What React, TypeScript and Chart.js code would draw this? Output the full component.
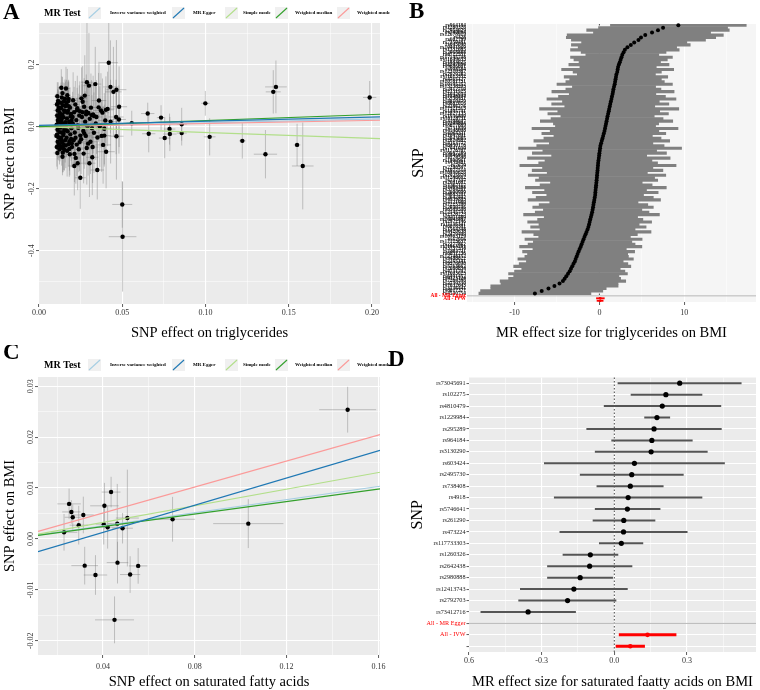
import React, { useEffect, useRef } from 'react';
import { Chart, registerables } from 'chart.js';

Chart.register(...registerables);

const SERIF = '"Liberation Serif", "Times New Roman", Times, serif';

/* ---------------- shared MR method styling ---------------- */
const methodNames = ['Inverse variance weighted', 'MR Egger', 'Simple mode', 'Weighted median', 'Weighted mode'];
const methodColors = ['#a6cee3', '#1f78b4', '#b2df8a', '#33a02c', '#fb9a99'];
const methodOrder = [4, 0, 3, 1, 2];

/* ---------------- panel A: triglycerides -> BMI (SNP scatter) ---------------- */
const tgMethodIntercepts = [0, 0.0042, 0, 0, 0];
const tgMethodSlopes = [0.12, 0.133, -0.189, 0.194, 0.0995];

const tgSnpX = [
  0.0110, 0.0115, 0.0108, 0.0120, 0.0112, 0.0125, 0.0109, 0.0118, 0.0113, 0.0127, 0.0106, 0.0121, 0.0111, 0.0124,
  0.0108, 0.0117, 0.0129, 0.0112, 0.0120, 0.0107, 0.0123, 0.0110, 0.0116, 0.0128, 0.0105, 0.0119, 0.0126, 0.0114,
  0.0134, 0.0141, 0.0137, 0.0150, 0.0144, 0.0132, 0.0155, 0.0139, 0.0147, 0.0135, 0.0158, 0.0142, 0.0131, 0.0152,
  0.0138, 0.0146, 0.0133, 0.0157, 0.0140, 0.0149, 0.0136, 0.0153, 0.0143, 0.0148, 0.0139, 0.0151, 0.0134, 0.0156,
  0.0145, 0.0137, 0.0154, 0.0141, 0.0159, 0.0132,
  0.0162, 0.0170, 0.0178, 0.0165, 0.0186, 0.0174, 0.0192, 0.0168, 0.0181, 0.0163, 0.0195, 0.0172, 0.0188, 0.0166,
  0.0183, 0.0176, 0.0198, 0.0169, 0.0185, 0.0179, 0.0190, 0.0164, 0.0193, 0.0175, 0.0197, 0.0171, 0.0187, 0.0161,
  0.0182, 0.0196,
  0.0205, 0.0218, 0.0230, 0.0211, 0.0242, 0.0224, 0.0203, 0.0236, 0.0215, 0.0248, 0.0208, 0.0227, 0.0239, 0.0213,
  0.0221, 0.0212, 0.0232, 0.0248, 0.0229, 0.0245, 0.0202, 0.0233, 0.0219, 0.0244,
  0.0255, 0.0262, 0.0271, 0.0284, 0.0258, 0.0277, 0.0291, 0.0266, 0.0281, 0.0253, 0.0295, 0.0268, 0.0287, 0.0288,
  0.0300, 0.0275, 0.0261, 0.0283, 0.0296, 0.0272,
  0.0338, 0.0312, 0.0325, 0.0305, 0.0341, 0.0318, 0.0330, 0.0351, 0.0309, 0.0322, 0.0320, 0.0303, 0.0350, 0.0315,
  0.0330, 0.0345, 0.0358,
  0.0381, 0.0372, 0.0398, 0.0365, 0.0392, 0.0392, 0.0385, 0.0403, 0.0465, 0.0481, 0.0463, 0.0480, 0.0430, 0.0419,
  0.0429, 0.0447, 0.0465, 0.0412, 0.0402, 0.0376, 0.0360,
  0.0500, 0.0502, 0.0557, 0.0653, 0.0733, 0.0857, 0.0999, 0.0659, 0.0784, 0.0786, 0.0755, 0.0857, 0.1025, 0.1221,
  0.1360, 0.1407, 0.1423, 0.1550, 0.1584, 0.1986,
];
const tgSnpY = [
  0.098, 0.083, 0.071, 0.062, 0.052, 0.044, 0.036, 0.029, 0.021, 0.013, 0.006, -0.002, -0.010, -0.018,
  -0.026, -0.034, -0.041, -0.049, -0.057, -0.066, -0.074, -0.085, 0.016, 0.032, -0.030, 0.056, -0.062, 0.076,
  0.125, 0.108, 0.094, 0.082, 0.069, 0.059, 0.048, 0.039, 0.030, 0.022, 0.014, 0.007, -0.003, -0.011,
  -0.019, -0.027, -0.036, -0.044, -0.051, -0.059, -0.067, -0.075, -0.084, -0.021, 0.011, 0.052, -0.046, 0.090,
  -0.071, 0.035, 0.001, -0.097, 0.066, 0.077,
  0.123, 0.101, 0.089, 0.073, 0.061, 0.051, 0.041, 0.026, 0.016, 0.005, -0.005, -0.015, -0.025, -0.036,
  -0.047, -0.057, -0.066, -0.078, -0.089, 0.066, 0.033, -0.012, -0.040, 0.082, -0.054, 0.045, 0.009, -0.061,
  -0.072, 0.021,
  0.085, 0.071, 0.059, 0.046, 0.036, 0.021, 0.010, -0.004, -0.019, -0.029, -0.044, -0.058, -0.073, -0.088,
  -0.101, -0.127, -0.118, -0.165, 0.053, 0.050, 0.031, 0.004, -0.036, -0.050,
  0.091, 0.080, 0.064, 0.048, 0.031, 0.016, 0.001, -0.014, -0.030, -0.041, -0.055, -0.087, -0.069, 0.143,
  0.132, 0.100, 0.046, 0.040, 0.044, -0.022,
  0.137, 0.061, 0.039, 0.025, 0.010, -0.005, -0.020, -0.035, -0.049, -0.066, -0.099, -0.118, -0.140, 0.037,
  0.034, 0.031, 0.062,
  0.045, 0.052, 0.020, 0.000, -0.007, -0.029, -0.059, -0.081, -0.031, 0.064, 0.031, 0.023, 0.016, 0.206,
  0.128, 0.112, 0.119, 0.057, 0.054, -0.030, 0.084,
  -0.251, -0.355, 0.011, 0.042, 0.029, 0.0075, 0.075, -0.023, -0.008, -0.024, -0.037, -0.021, -0.033, -0.046,
  -0.089, 0.112, 0.128, -0.059, -0.127, 0.094,
];
const tgSnpSeX = [
  0.002, 0.0018, 0.0022, 0.0016, 0.0025, 0.002, 0.0017, 0.0023, 0.0019, 0.0021, 0.0015, 0.0024, 0.002, 0.0018,
  0.0022, 0.0016, 0.0021, 0.0019, 0.0023, 0.0017, 0.002, 0.0022, 0.0018, 0.0021, 0.0016, 0.0024, 0.0019, 0.002,
  0.0022, 0.002, 0.0025, 0.0018, 0.0021, 0.0024, 0.0017, 0.002, 0.0023, 0.0019, 0.0022, 0.0026, 0.0018, 0.0021,
  0.002, 0.0024, 0.0017, 0.0022, 0.0019, 0.0023, 0.0021, 0.0018, 0.0025, 0.002, 0.0022, 0.0019, 0.0024, 0.0021,
  0.0018, 0.0023, 0.002, 0.0022, 0.0019, 0.0021,
  0.0025, 0.0022, 0.0028, 0.002, 0.0024, 0.0027, 0.0021, 0.0026, 0.0023, 0.0025, 0.002, 0.0024, 0.0028, 0.0022,
  0.0026, 0.0021, 0.0025, 0.0023, 0.0027, 0.0022, 0.0024, 0.002, 0.0026, 0.0023, 0.0025, 0.0021, 0.0027, 0.0024,
  0.0022, 0.0026,
  0.003, 0.0026, 0.0033, 0.0028, 0.0031, 0.0025, 0.0029, 0.0034, 0.0027, 0.003, 0.0032, 0.0026, 0.0029, 0.0031,
  0.0028, 0.0035, 0.003, 0.0033, 0.0027, 0.0029, 0.0031, 0.0026, 0.003, 0.0028,
  0.0034, 0.003, 0.0037, 0.0032, 0.0035, 0.0029, 0.0036, 0.0031, 0.0038, 0.0033, 0.003, 0.0035, 0.0032, 0.0036,
  0.0034, 0.0031, 0.0033, 0.0037, 0.003, 0.0034,
  0.0036, 0.004, 0.0034, 0.0038, 0.0035, 0.0039, 0.0033, 0.0037, 0.004, 0.0035, 0.0038, 0.0036, 0.0041, 0.0034,
  0.0037, 0.0035, 0.0039,
  0.004, 0.0045, 0.0042, 0.0038, 0.0044, 0.0041, 0.0046, 0.0052, 0.0043, 0.0048, 0.0045, 0.0042, 0.0047, 0.0055,
  0.0044, 0.0049, 0.006, 0.0043, 0.0046, 0.0041, 0.0044,
  0.006, 0.0083, 0.003, 0.004, 0.0025, 0.003, 0.0025, 0.004, 0.0035, 0.004, 0.0035, 0.003, 0.0035, 0.002,
  0.007, 0.0045, 0.0065, 0.002, 0.0065, 0.004,
];
const tgSnpSeY = [
  0.045, 0.06, 0.038, 0.052, 0.07, 0.041, 0.055, 0.033, 0.062, 0.047, 0.058, 0.036, 0.066, 0.043,
  0.051, 0.075, 0.039, 0.057, 0.044, 0.063, 0.048, 0.053, 0.035, 0.06, 0.046, 0.071, 0.05, 0.042,
  0.06, 0.052, 0.068, 0.045, 0.074, 0.056, 0.049, 0.083, 0.061, 0.047, 0.07, 0.054, 0.066, 0.058,
  0.077, 0.05, 0.063, 0.072, 0.055, 0.081, 0.059, 0.067, 0.064, 0.053, 0.069, 0.088, 0.057, 0.062,
  0.075, 0.048, 0.071, 0.06, 0.079, 0.065,
  0.07, 0.085, 0.062, 0.078, 0.066, 0.092, 0.058, 0.074, 0.081, 0.063, 0.087, 0.069, 0.076, 0.061,
  0.095, 0.072, 0.064, 0.083, 0.068, 0.079, 0.06, 0.088, 0.071, 0.066, 0.077, 0.084, 0.059, 0.073,
  0.09, 0.065,
  0.09, 0.076, 0.105, 0.082, 0.097, 0.071, 0.088, 0.11, 0.079, 0.094, 0.085, 0.102, 0.074, 0.091,
  0.083, 0.095, 0.087, 0.1, 0.072, 0.096, 0.081, 0.089, 0.078, 0.093,
  0.1, 0.115, 0.092, 0.12, 0.105, 0.098, 0.125, 0.108, 0.094, 0.112, 0.103, 0.096, 0.118, 0.21,
  0.17, 0.13, 0.1, 0.109, 0.097, 0.114,
  0.12, 0.11, 0.125, 0.1, 0.118, 0.107, 0.13, 0.112, 0.104, 0.116, 0.122, 0.109, 0.095, 0.113,
  0.106, 0.119, 0.111,
  0.11, 0.12, 0.105, 0.13, 0.115, 0.1, 0.125, 0.118, 0.14, 0.13, 0.12, 0.11, 0.135, 0.19,
  0.15, 0.145, 0.16, 0.12, 0.108, 0.116, 0.125,
  0.075, 0.177, 0.04, 0.035, 0.04, 0.053, 0.04, 0.06, 0.05, 0.055, 0.065, 0.04, 0.06, 0.057,
  0.078, 0.07, 0.085, 0.068, 0.14, 0.053,
];
const tgXTicks = [0, 0.05, 0.1, 0.15, 0.2];
const tgXTickLabels = ['0.00', '0.05', '0.10', '0.15', '0.20'];
const tgYTicks = [-0.4, -0.2, 0, 0.2];
const tgYTickLabels = ['-0.4', '-0.2', '0.0', '0.2'];

/* ---------------- panel B: single-SNP MR estimates, triglycerides -> BMI ---------------- */
const tgForestNames = (
  'rs964184 rs1260326 rs2954029 rs780094 rs12678919 rs328 rs662799 rs7350481 rs645040 rs10401969 ' +
  'rs1532085 rs2068888 rs4722551 rs17145738 rs11649653 rs1883025 rs2247056 rs9686661 rs998584 rs12310367 ' +
  'rs2929282 rs11613352 rs4765127 rs10761731 rs10195252 rs13238203 rs2412710 rs2131925 rs1042034 rs7248104 ' +
  'rs5756931 rs4810479 rs6882076 rs2286276 rs17321515 rs1495741 rs12027135 rs1936800 rs10128711 rs3198697 ' +
  'rs7205804 rs8077889 rs731839 rs4148008 rs6065311 rs1047891 rs2043085 rs2814982 rs4253772 rs6450176 ' +
  'rs7941030 rs11776767 rs9987289 rs4846914 rs174546 rs1800961 rs439401 rs7679 rs2290547 rs1077514 ' +
  'rs10490626 rs2925979 rs11246602 rs737337 rs2081687 rs1367117 rs1169288 rs3764261 rs2000999 rs4883201 ' +
  'rs2642442 rs4939883 rs1121980 rs7225700 rs2030746 rs6589566 rs12145743 rs2328223 rs9411489 rs16942887 ' +
  'rs2972146 rs11136341 rs6016381 rs1564348 rs4420638 rs2479409 rs10903129 rs12916 rs17173637 rs2277862 ' +
  'rs11563251 rs3757354 rs1883711 rs6831256 rs12748152 rs9488822 rs2255141 rs9376090 rs5763662 rs2068834 ' +
  'rs4731702 rs11603023 rs6491452 rs9323124 rs7264396 rs2739330 rs7832643 rs3136441 rs8017377 rs4530754'
).split(' ');
const tgForestBeta = [
  9.3, 7.5, 6.9, 6.2, 5.4, 4.9, 4.6, 4.1, 3.7, 3.3,
  3.0, 2.85, 2.7, 2.6, 2.5, 2.4, 2.3, 2.2, 2.15, 2.1,
  2.0, 1.95, 1.9, 1.85, 1.8, 1.72, 1.65, 1.6, 1.55, 1.48,
  1.42, 1.35, 1.28, 1.22, 1.15, 1.1, 1.03, 0.96, 0.9, 0.84,
  0.78, 0.72, 0.66, 0.6, 0.52, 0.44, 0.36, 0.28, 0.2, 0.12,
  0.08, 0.04, 0.0, -0.03, -0.07, -0.11, -0.15, -0.17, -0.2, -0.22,
  -0.25, -0.28, -0.3, -0.33, -0.36, -0.39, -0.42, -0.45, -0.48, -0.5,
  -0.55, -0.6, -0.65, -0.7, -0.75, -0.8, -0.86, -0.93, -1.0, -1.08,
  -1.15, -1.22, -1.3, -1.4, -1.52, -1.63, -1.75, -1.87, -1.98, -2.1,
  -2.2, -2.33, -2.45, -2.57, -2.68, -2.8, -2.9, -3.05, -3.2, -3.35,
  -3.5, -3.7, -3.9, -4.1, -4.3, -4.7, -5.3, -6.0, -6.8, -7.6,
];
const tgForestHalfCi = [
  8.0, 7.6, 8.4, 6.9, 9.2, 8.8, 7.9, 6.2, 7.0, 5.8,
  6.4, 5.0, 4.3, 6.0, 5.5, 4.8, 5.9, 4.5, 6.6, 5.2,
  4.6, 6.1, 5.4, 5.8, 6.8, 4.9, 5.6, 7.2, 5.1, 6.3,
  7.6, 5.7, 6.9, 5.3, 8.2, 6.0, 7.1, 5.5, 6.6, 7.8,
  6.2, 5.9, 8.6, 6.4, 7.3, 5.8, 6.9, 8.0, 6.1, 7.5,
  9.6, 6.7, 7.9, 5.6, 8.4, 6.3, 7.0, 9.2, 6.5, 7.7,
  5.9, 8.1, 6.8, 7.2, 5.4, 6.6, 8.3, 6.0, 7.4, 5.7,
  6.9, 7.8, 5.2, 6.4, 7.1, 5.8, 6.7, 8.0, 5.5, 6.2,
  7.3, 5.9, 6.8, 5.6, 7.6, 6.1, 5.4, 6.9, 5.8, 6.3,
  7.2, 5.5, 6.6, 5.9, 6.1, 6.8, 5.7, 6.4, 6.9, 5.8,
  6.5, 7.0, 6.2, 6.6, 7.4, 6.9, 7.5, 6.8, 7.2, 6.6,
];
const tgSummaryLabels = ['All - MR Egger', 'All - IVW', ''];
const tgSummaryBeta = [null, 0.12, 0.08];
const tgSummaryLo = [null, -0.35, -0.28];
const tgSummaryHi = [null, 0.58, 0.44];
const tgForestTicks = [-10, 0, 10];
const tgForestTickLabels = ['-10', '0', '10'];

/* ---------------- panel C: saturated fatty acids -> BMI (SNP scatter) ---------------- */
const sfaMethodIntercepts = [0, -0.00406, 0, 0, 0];
const sfaMethodSlopes = [0.0644, 0.1335, 0.0815, 0.0612, 0.1276];
const sfaSnpX = [
  0.1466, 0.0252, 0.0262, 0.0268, 0.0230, 0.0294, 0.0314, 0.0406, 0.0435, 0.0403, 0.0420,
  0.0462, 0.0485, 0.0506, 0.0703, 0.1033, 0.0320, 0.0367, 0.0463, 0.0518, 0.0553, 0.0450,
];
const sfaSnpY = [
  0.02538, 0.00688, 0.0053, 0.00425, 0.0013, 0.0027, 0.0047, 0.0065, 0.0092, 0.0029, 0.0023,
  0.0030, 0.0021, 0.0041, 0.00386, 0.0030, -0.00525, -0.00709, -0.00466, -0.0070, -0.0053, -0.0159,
];
const sfaSnpSeX = [
  0.0124, 0.0051, 0.004, 0.0035, 0.0058, 0.004, 0.0045, 0.0062, 0.0041, 0.0035, 0.004,
  0.004, 0.0045, 0.005, 0.0098, 0.0153, 0.0058, 0.0051, 0.0047, 0.0044, 0.004, 0.0085,
];
const sfaSnpSeY = [
  0.0045, 0.003, 0.0023, 0.0025, 0.0036, 0.0038, 0.0036, 0.0045, 0.003, 0.004, 0.0042,
  0.0078, 0.003, 0.0095, 0.0044, 0.0048, 0.0037, 0.0039, 0.0041, 0.0036, 0.0035, 0.0046,
];
const sfaXTicks = [0.04, 0.08, 0.12, 0.16];
const sfaXTickLabels = ['0.04', '0.08', '0.12', '0.16'];
const sfaYTicks = [-0.02, -0.01, 0, 0.01, 0.02, 0.03];
const sfaYTickLabels = ['-0.02', '-0.01', '0.00', '0.01', '0.02', '0.03'];

/* ---------------- panel D: single-SNP MR estimates, saturated fatty acids -> BMI ---------------- */
const sfaForestNames = [
  'rs73045691', 'rs102275', 'rs4810479', 'rs1229984', 'rs295289', 'rs964184', 'rs3130290', 'rs603424',
  'rs2495730', 'rs738408', 'rs4918', 'rs5746641', 'rs261290', 'rs473224', 'rs117733303', 'rs1260326',
  'rs2642438', 'rs2980888', 'rs12413743', 'rs2792703', 'rs73412716',
];
const sfaForestBeta = [
  0.270, 0.213, 0.198, 0.176, 0.164, 0.155, 0.152, 0.083, 0.072, 0.066, 0.057,
  0.054, 0.039, 0.038, 0.029, -0.099, -0.102, -0.141, -0.167, -0.193, -0.356,
];
const sfaForestLo = [
  0.015, 0.069, -0.042, 0.125, -0.114, -0.011, -0.079, -0.289, -0.141, -0.072, -0.248,
  -0.079, -0.088, -0.225, -0.062, -0.212, -0.276, -0.276, -0.388, -0.395, -0.551,
];
const sfaForestHi = [
  0.524, 0.362, 0.440, 0.229, 0.442, 0.322, 0.384, 0.455, 0.285, 0.202, 0.362,
  0.189, 0.168, 0.301, 0.118, 0.015, 0.073, -0.007, 0.054, 0.007, -0.160,
];
const sfaSummaryLabels = ['All - MR Egger', 'All - IVW', ''];
const sfaSummaryBeta = [null, 0.137, 0.066];
const sfaSummaryLo = [null, 0.020, 0.007];
const sfaSummaryHi = [null, 0.255, 0.125];
const sfaForestTicks = [-0.6, -0.3, 0, 0.3];
const sfaForestTickLabels = ['0.6', '-0.3', '0.0', '0.3'];

/* ---------------- helpers ---------------- */
type Area = { left: number; top: number; right: number; bottom: number };

const near = (a: number, b: number) => Math.abs(a - b) < 1e-9;

// ggplot-style minor breaks: halfway between the major breaks, inside the range
function minorBreaks(majors: number[], min: number, max: number) {
  const step = majors[1] - majors[0];
  const out: number[] = [];
  for (let v = majors[0] - step * 1.5; v <= max + 1e-12; v += step) {
    if (v >= min - 1e-12) out.push(v);
  }
  return out.filter((v) => !majors.some((m) => near(m, v)));
}

function linearAxis(o: {
  axis: 'x' | 'y';
  min: number;
  max: number;
  majors: number[];
  labels: string[];
  box: number;
  showLabels: boolean;
  pad: number;
  tickLen: number;
}) {
  const minors = minorBreaks(o.majors, o.min, o.max);
  const isMajor = (v: number) => o.majors.some((m) => near(m, v));
  return {
    type: 'linear',
    min: o.min,
    max: o.max,
    bounds: 'data',
    afterBuildTicks: (s: any) => {
      s.ticks = [...o.majors, ...minors].sort((a, b) => a - b).map((v) => ({ value: v }));
    },
    afterFit: (s: any) => {
      if (o.axis === 'x') s.height = o.box;
      else s.width = o.box;
    },
    ticks: {
      display: o.showLabels,
      autoSkip: false,
      maxRotation: 0,
      minRotation: 0,
      padding: o.pad,
      color: '#333333',
      font: { family: SERIF, size: 8 },
      callback: (v: number) => {
        const i = o.majors.findIndex((m) => near(m, v));
        return i >= 0 ? o.labels[i] : '';
      },
    },
    grid: {
      color: '#ffffff',
      lineWidth: (c: any) => (c.tick && isMajor(c.tick.value) ? 1.1 : 0.5),
      drawTicks: true,
      tickLength: o.tickLen,
      tickWidth: 0.8,
      tickColor: (c: any) => (c.tick && isMajor(c.tick.value) ? '#333333' : 'rgba(0,0,0,0)'),
    },
    border: { display: false },
  };
}

function panelBackground(color: string) {
  return {
    id: 'panelBackground',
    beforeDraw(chart: any) {
      const { ctx, chartArea: a } = chart;
      ctx.save();
      ctx.fillStyle = color;
      ctx.fillRect(a.left, a.top, a.right - a.left, a.bottom - a.top);
      ctx.restore();
    },
  };
}

type TextItem = {
  text: string;
  x: number | 'center';
  y: number | 'middle';
  size: number;
  bold?: boolean;
  rotate?: boolean;
  baseline?: CanvasTextBaseline;
  align?: CanvasTextAlign;
};

function textPlugin(items: TextItem[]) {
  return {
    id: 'panelText',
    afterDraw(chart: any) {
      const { ctx, chartArea: a } = chart;
      items.forEach((t) => {
        const x = t.x === 'center' ? (a.left + a.right) / 2 : t.x;
        const y = t.y === 'middle' ? (a.top + a.bottom) / 2 : t.y;
        ctx.save();
        ctx.fillStyle = '#000000';
        ctx.font = `${t.bold ? 'bold ' : ''}${t.size}px ${SERIF}`;
        ctx.textAlign = t.align || 'center';
        ctx.textBaseline = t.baseline || 'middle';
        ctx.translate(x, y);
        if (t.rotate) ctx.rotate(-Math.PI / 2);
        ctx.fillText(t.text, 0, 0);
        ctx.restore();
      });
    },
  };
}

function rotatedYTickLabels(values: number[], labels: string[], gap: number) {
  return {
    id: 'rotatedYTicks',
    afterDraw(chart: any) {
      const { ctx, chartArea: a, scales } = chart;
      ctx.save();
      ctx.fillStyle = '#333333';
      ctx.font = `8px ${SERIF}`;
      ctx.textAlign = 'center';
      ctx.textBaseline = 'middle';
      values.forEach((v, i) => {
        ctx.save();
        ctx.translate(a.left - gap, scales.y.getPixelForValue(v));
        ctx.rotate(-Math.PI / 2);
        ctx.fillText(labels[i], 0, 0);
        ctx.restore();
      });
      ctx.restore();
    },
  };
}

function errorBarPlugin(xs: number[], ys: number[], sx: number[], sy: number[], color: string) {
  return {
    id: 'errorBars',
    beforeDatasetsDraw(chart: any) {
      const { ctx, chartArea: a, scales } = chart;
      const X = scales.x;
      const Y = scales.y;
      ctx.save();
      ctx.beginPath();
      ctx.rect(a.left, a.top, a.right - a.left, a.bottom - a.top);
      ctx.clip();
      ctx.strokeStyle = color;
      ctx.lineWidth = 0.9;
      xs.forEach((xv, i) => {
        const px = X.getPixelForValue(xv);
        const py = Y.getPixelForValue(ys[i]);
        ctx.beginPath();
        ctx.moveTo(px, Y.getPixelForValue(ys[i] - sy[i]));
        ctx.lineTo(px, Y.getPixelForValue(ys[i] + sy[i]));
        ctx.stroke();
        ctx.beginPath();
        ctx.moveTo(X.getPixelForValue(xv - sx[i]), py);
        ctx.lineTo(X.getPixelForValue(xv + sx[i]), py);
        ctx.stroke();
      });
      ctx.restore();
    },
  };
}

function mrLegendPlugin(cy: number) {
  const keyX = [88, 172, 225, 275, 337];
  const textX = [110, 193, 243, 295, 357];
  return {
    id: 'mrLegend',
    afterDraw(chart: any) {
      const ctx = chart.ctx;
      ctx.save();
      ctx.textBaseline = 'middle';
      ctx.textAlign = 'left';
      ctx.fillStyle = '#000000';
      ctx.font = `bold 10px ${SERIF}`;
      ctx.fillText('MR Test', 44, cy);
      methodNames.forEach((name, i) => {
        const kx = keyX[i];
        ctx.fillStyle = '#f0f0f0';
        ctx.fillRect(kx, cy - 6, 13, 12);
        ctx.strokeStyle = methodColors[i];
        ctx.lineWidth = 1.1;
        ctx.beginPath();
        ctx.moveTo(kx + 1, cy + 5);
        ctx.lineTo(kx + 12, cy - 5);
        ctx.stroke();
        ctx.fillStyle = '#000000';
        ctx.font = `bold 5px ${SERIF}`;
        ctx.fillText(name, textX[i], cy);
      });
      ctx.restore();
    },
  };
}

function zeroLinePlugin() {
  return {
    id: 'zeroLine',
    beforeDatasetsDraw(chart: any) {
      const { ctx, chartArea: a, scales } = chart;
      const px = scales.x.getPixelForValue(0);
      ctx.save();
      ctx.strokeStyle = '#333333';
      ctx.lineWidth = 0.9;
      ctx.setLineDash([1.5, 2]);
      ctx.beginPath();
      ctx.moveTo(px, a.top);
      ctx.lineTo(px, a.bottom);
      ctx.stroke();
      ctx.restore();
    },
  };
}

function separatorPlugin(rowIndex: number, color: string) {
  return {
    id: 'separator',
    beforeDatasetsDraw(chart: any) {
      const { ctx, chartArea: a, scales } = chart;
      const py = scales.y.getPixelForTick(rowIndex);
      ctx.save();
      ctx.strokeStyle = color;
      ctx.lineWidth = 1;
      ctx.beginPath();
      ctx.moveTo(a.left, py);
      ctx.lineTo(a.right, py);
      ctx.stroke();
      ctx.restore();
    },
  };
}

function baseOptions(area: Area, canvasW: number) {
  return {
    responsive: false,
    animation: false,
    devicePixelRatio: 1,
    events: [],
    layout: { padding: { left: 0, top: area.top, right: canvasW - area.right, bottom: 0 } },
    plugins: { legend: { display: false }, tooltip: { enabled: false } },
  };
}

/* ---------------- scatter panels (A, C) ---------------- */
function scatterPanel(p: {
  xs: number[];
  ys: number[];
  sx: number[];
  sy: number[];
  intercepts: number[];
  slopes: number[];
  xMin: number;
  xMax: number;
  yMin: number;
  yMax: number;
  xTicks: number[];
  xTickLabels: string[];
  yTicks: number[];
  yTickLabels: string[];
  area: Area;
  w: number;
  h: number;
  xTickPad: number;
  letter: string;
  letterY: number;
  legendY: number;
  xTitle: string;
  xTitleY: number;
}) {
  const lines = methodNames.map((name, i) => ({
    type: 'scatter',
    label: name,
    showLine: true,
    pointRadius: 0,
    borderColor: methodColors[i],
    borderWidth: 1.2,
    order: methodOrder[i],
    data: [
      { x: p.xMin, y: p.intercepts[i] + p.slopes[i] * p.xMin },
      { x: p.xMax, y: p.intercepts[i] + p.slopes[i] * p.xMax },
    ],
  }));
  return {
    type: 'scatter',
    data: {
      datasets: [
        ...lines,
        {
          type: 'scatter',
          label: 'SNP',
          order: 10,
          pointRadius: 2.2,
          pointBackgroundColor: '#000000',
          pointBorderWidth: 0,
          data: p.xs.map((x, i) => ({ x, y: p.ys[i] })),
        },
      ],
    },
    options: {
      ...baseOptions(p.area, p.w),
      scales: {
        x: linearAxis({
          axis: 'x', min: p.xMin, max: p.xMax, majors: p.xTicks, labels: p.xTickLabels,
          box: p.h - p.area.bottom, showLabels: true, pad: p.xTickPad, tickLen: 3,
        }),
        y: linearAxis({
          axis: 'y', min: p.yMin, max: p.yMax, majors: p.yTicks, labels: p.yTickLabels,
          box: p.area.left, showLabels: false, pad: 0, tickLen: 3,
        }),
      },
    },
    plugins: [
      panelBackground('#ebebeb'),
      errorBarPlugin(p.xs, p.ys, p.sx, p.sy, 'rgba(120,120,120,0.45)'),
      rotatedYTickLabels(p.yTicks, p.yTickLabels, 7),
      mrLegendPlugin(p.legendY),
      textPlugin([
        { text: p.letter, x: 3, y: p.letterY, size: 23, bold: true, baseline: 'alphabetic', align: 'left' },
        { text: 'SNP effect on BMI', x: 10, y: 'middle', size: 14.5, rotate: true },
        { text: p.xTitle, x: 'center', y: p.xTitleY, size: 14.5 },
      ]),
    ],
  };
}

/* ---------------- forest panels (B, D) ---------------- */
function forestPanel(p: {
  names: string[];
  beta: number[];
  lo: number[];
  hi: number[];
  sumLabels: string[];
  sumBeta: (number | null)[];
  sumLo: (number | null)[];
  sumHi: (number | null)[];
  xMin: number;
  xMax: number;
  xTicks: number[];
  xTickLabels: string[];
  area: Area;
  w: number;
  h: number;
  xTickPad: number;
  labelSize: number;
  labelBold: boolean;
  rowTicks: number;
  bg: string;
  rowGrid: boolean;
  ciColor: string;
  ciThickness?: number;
  ciPercentage?: number;
  snpRadius: number;
  sumRadius: number;
  sumThickness: number;
  letter: string;
  letterX: number;
  letterY: number;
  snpTitleX: number;
  xTitle: string;
  xTitleY: number;
}) {
  const n = p.names.length;
  const labels = [...p.names, ...p.sumLabels];
  const empty = (k: number) => Array.from({ length: k }, () => null);
  const ciBars = [...p.names.map((_, i) => [p.lo[i], p.hi[i]]), ...empty(p.sumLabels.length)];
  const sumBars = [
    ...empty(n),
    ...p.sumBeta.map((b, j) => (b === null ? null : [p.sumLo[j] as number, p.sumHi[j] as number])),
  ];
  const ciOpts: any = p.ciThickness
    ? { barThickness: p.ciThickness }
    : { barPercentage: p.ciPercentage, categoryPercentage: 1 };
  return {
    type: 'bar',
    data: {
      labels,
      datasets: [
        { type: 'bar', label: 'SNP CI', data: ciBars, backgroundColor: p.ciColor, borderWidth: 0, grouped: false, order: 4, ...ciOpts },
        { type: 'bar', label: 'Summary CI', data: sumBars, backgroundColor: '#ff0000', borderWidth: 0, grouped: false, order: 3, barThickness: p.sumThickness },
        {
          type: 'line', label: 'SNP', data: [...p.beta, ...empty(p.sumLabels.length)], showLine: false,
          pointRadius: p.snpRadius, pointBackgroundColor: '#000000', pointBorderWidth: 0, order: 1,
        },
        {
          type: 'line', label: 'Summary', data: [...empty(n), ...p.sumBeta], showLine: false,
          pointRadius: p.sumRadius, pointBackgroundColor: '#ff0000', pointBorderWidth: 0, order: 0,
        },
      ],
    },
    options: {
      ...baseOptions(p.area, p.w),
      indexAxis: 'y',
      scales: {
        x: linearAxis({
          axis: 'x', min: p.xMin, max: p.xMax, majors: p.xTicks, labels: p.xTickLabels,
          box: p.h - p.area.bottom, showLabels: true, pad: p.xTickPad, tickLen: 3,
        }),
        y: {
          type: 'category',
          offset: true,
          afterFit: (s: any) => {
            s.width = p.area.left;
          },
          ticks: {
            autoSkip: false,
            padding: 1,
            font: { family: SERIF, size: p.labelSize, weight: p.labelBold ? 'bold' : 'normal' },
            color: (c: any) => (c.index >= n ? '#ff0000' : '#1a1a1a'),
          },
          grid: {
            display: true,
            offset: false,
            color: p.rowGrid ? '#ffffff' : 'rgba(0,0,0,0)',
            lineWidth: 1.1,
            drawTicks: p.rowTicks > 0,
            tickLength: p.rowTicks,
            tickWidth: 0.8,
            tickColor: '#333333',
          },
          border: { display: false },
        },
      },
    },
    plugins: [
      panelBackground(p.bg),
      zeroLinePlugin(),
      separatorPlugin(n, '#b8b8b8'),
      textPlugin([
        { text: p.letter, x: p.letterX, y: p.letterY, size: 23, bold: true, baseline: 'alphabetic', align: 'left' },
        { text: 'SNP', x: p.snpTitleX, y: 'middle', size: 16, rotate: true },
        { text: p.xTitle, x: 'center', y: p.xTitleY, size: 14.5 },
      ]),
    ],
  };
}

const buildA = () =>
  scatterPanel({
    xs: tgSnpX, ys: tgSnpY, sx: tgSnpSeX, sy: tgSnpSeY,
    intercepts: tgMethodIntercepts, slopes: tgMethodSlopes,
    xMin: 0, xMax: 0.2048, yMin: -0.572, yMax: 0.334,
    xTicks: tgXTicks, xTickLabels: tgXTickLabels, yTicks: tgYTicks, yTickLabels: tgYTickLabels,
    area: { left: 39, top: 23, right: 380, bottom: 304 }, w: 390, h: 345, xTickPad: 1,
    letter: 'A', letterY: 19, legendY: 13,
    xTitle: 'SNP effect on triglycerides', xTitleY: 333,
  });

const buildB = () =>
  forestPanel({
    names: tgForestNames,
    beta: tgForestBeta,
    lo: tgForestBeta.map((b, i) => b - tgForestHalfCi[i]),
    hi: tgForestBeta.map((b, i) => b + tgForestHalfCi[i]),
    sumLabels: tgSummaryLabels, sumBeta: tgSummaryBeta, sumLo: tgSummaryLo, sumHi: tgSummaryHi,
    xMin: -15.6, xMax: 18.45, xTicks: tgForestTicks, xTickLabels: tgForestTickLabels,
    area: { left: 87, top: 24, right: 380, bottom: 302 }, w: 380, h: 345, xTickPad: 3,
    labelSize: 5.4, labelBold: true, rowTicks: 0, bg: '#f5f5f5', rowGrid: false,
    ciColor: '#808080', ciPercentage: 1, snpRadius: 2, sumRadius: 1.2, sumThickness: 1.2,
    letter: 'B', letterX: 29, letterY: 18, snpTitleX: 39,
    xTitle: 'MR effect size for triglycerides on BMI', xTitleY: 333,
  });

const buildC = () =>
  scatterPanel({
    xs: sfaSnpX, ys: sfaSnpY, sx: sfaSnpSeX, sy: sfaSnpSeY,
    intercepts: sfaMethodIntercepts, slopes: sfaMethodSlopes,
    xMin: 0.01165, xMax: 0.1607, yMin: -0.0228, yMax: 0.0318,
    xTicks: sfaXTicks, xTickLabels: sfaXTickLabels, yTicks: sfaYTicks, yTickLabels: sfaYTickLabels,
    area: { left: 38, top: 32, right: 380, bottom: 310 }, w: 395, h: 345, xTickPad: 4,
    letter: 'C', letterY: 14, legendY: 20,
    xTitle: 'SNP effect on saturated fatty acids', xTitleY: 337,
  });

const buildD = () =>
  forestPanel({
    names: sfaForestNames, beta: sfaForestBeta, lo: sfaForestLo, hi: sfaForestHi,
    sumLabels: sfaSummaryLabels, sumBeta: sfaSummaryBeta, sumLo: sfaSummaryLo, sumHi: sfaSummaryHi,
    xMin: -0.6, xMax: 0.585, xTicks: sfaForestTicks, xTickLabels: sfaForestTickLabels,
    area: { left: 89, top: 32.5, right: 380, bottom: 307 }, w: 380, h: 345, xTickPad: 1,
    labelSize: 6.2, labelBold: false, rowTicks: 2.5, bg: '#ebebeb', rowGrid: true,
    ciColor: '#555555', ciThickness: 1.3, snpRadius: 2.6, sumRadius: 2.3, sumThickness: 2.4,
    letter: 'D', letterX: 8, letterY: 21, snpTitleX: 38,
    xTitle: 'MR effect size for saturated faatty acids on BMI', xTitleY: 337,
  });

function ChartCanvas(props: { left: number; top: number; width: number; height: number; build: () => any }) {
  const ref = useRef<HTMLCanvasElement | null>(null);
  const { left, top, width, height, build } = props;
  useEffect(() => {
    if (!ref.current) return;
    const chart = new Chart(ref.current, build());
    return () => chart.destroy();
  }, [build]);
  return (
    <canvas
      ref={ref}
      width={width}
      height={height}
      style={{ position: 'absolute', left, top, width, height }}
    />
  );
}

export default function App() {
  return (
    <div
      style={{
        position: 'absolute',
        left: 0,
        top: 0,
        width: 760,
        height: 690,
        background: '#ffffff',
        overflow: 'hidden',
      }}
    >
      <ChartCanvas left={0} top={0} width={390} height={345} build={buildA} />
      <ChartCanvas left={380} top={0} width={380} height={345} build={buildB} />
      <ChartCanvas left={0} top={345} width={395} height={345} build={buildC} />
      <ChartCanvas left={380} top={345} width={380} height={345} build={buildD} />
    </div>
  );
}
